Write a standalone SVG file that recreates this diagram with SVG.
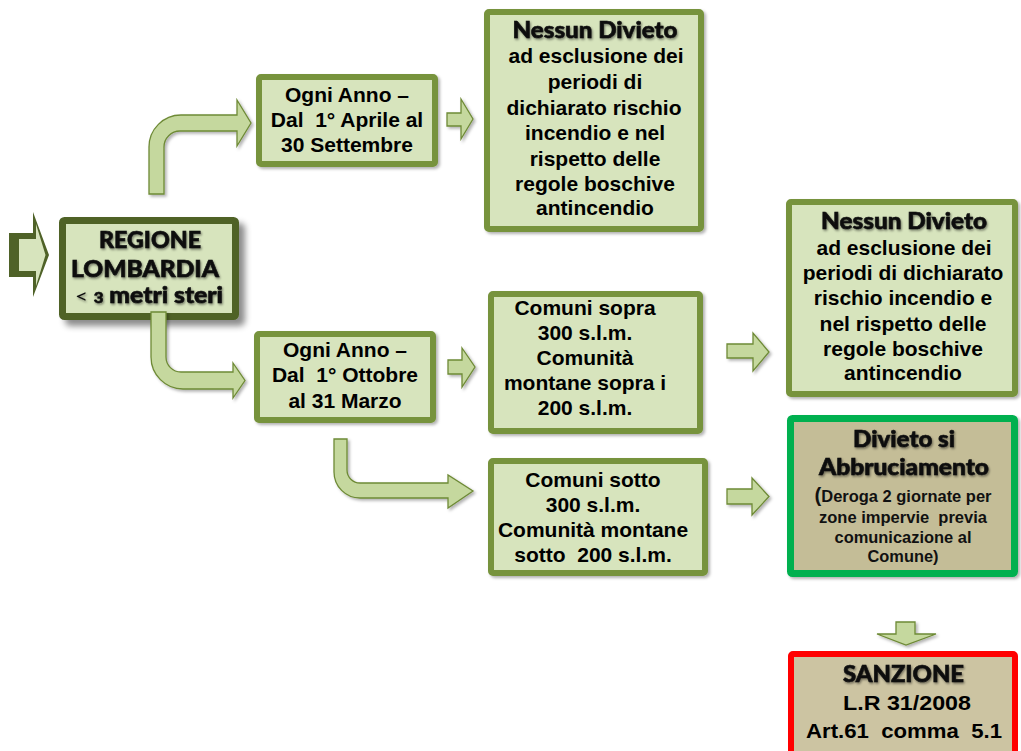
<svg xmlns="http://www.w3.org/2000/svg" width="1021" height="751" viewBox="0 0 1021 751">
<style>
  .box { fill: #D7E4BD; stroke: #77933C; stroke-width: 6; }
  .boxdark { fill: #D7E4BD; stroke: #4F6228; stroke-width: 7; }
  .boxtan-g { fill: #C4BD97; stroke: #00B050; stroke-width: 7; }
  .boxtan-r { fill: #CCC4A2; stroke: #FF0000; stroke-width: 6; }
  .arrow { fill: #C5D89E; stroke: #6E8A36; stroke-width: 1.3; stroke-linejoin: miter; }
  .t { font-family: "Liberation Sans", Arial, sans-serif; font-weight: bold; font-size: 21px; fill: #000; text-anchor: middle; }
  .h { font-family: Lato, "DejaVu Sans", sans-serif; font-weight: 900; font-size: 22px; fill: #111; stroke: #111; stroke-width: 0.6; text-anchor: middle; }
  .n { font-family: "Liberation Sans Narrow", "Liberation Sans", Arial, sans-serif; font-weight: bold; font-size: 17px; fill: #111; text-anchor: middle; }
</style>
<defs>
  <filter id="sh" x="-10%" y="-10%" width="130%" height="130%">
    <feDropShadow dx="2" dy="2" stdDeviation="1.5" flood-color="#000" flood-opacity="0.3"/>
  </filter>
  <filter id="shbig" x="-10%" y="-10%" width="130%" height="140%">
    <feDropShadow dx="6" dy="6" stdDeviation="3" flood-color="#000" flood-opacity="0.45"/>
  </filter>
  <filter id="tsh" x="-5%" y="-20%" width="115%" height="150%">
    <feDropShadow dx="1" dy="1.5" stdDeviation="1" flood-color="#000" flood-opacity="0.45"/>
  </filter>
</defs>

<g id="node-regione">
  <rect class="boxdark" x="62.5" y="220.5" width="173" height="96" rx="2" filter="url(#shbig)"/>
  <g filter="url(#tsh)">
    <text class="h" x="150" y="248" textLength="102" lengthAdjust="spacingAndGlyphs">REGIONE</text>
    <text class="h" x="145" y="277" textLength="148" lengthAdjust="spacingAndGlyphs">LOMBARDIA</text>
    <text class="h" x="149" y="303" textLength="148" lengthAdjust="spacingAndGlyphs" xml:space="preserve"><tspan font-weight="normal" stroke-width="0" font-size="20">&lt; </tspan><tspan font-size="15">3</tspan><tspan> metri steri</tspan></text>
  </g>
</g>

<g id="node-ogni-anno-aprile">
  <rect class="box" x="259" y="77" width="176" height="87" rx="2" filter="url(#sh)"/>
  <text class="t" x="347" y="102" font-size="20.5">Ogni Anno –</text>
  <text class="t" x="347" y="127" font-size="20.5" xml:space="preserve">Dal  1° Aprile al</text>
  <text class="t" x="347" y="152" font-size="20.5">30 Settembre</text>
</g>

<g id="node-ogni-anno-ottobre">
  <rect class="box" x="257" y="334" width="176" height="86" rx="2" filter="url(#sh)"/>
  <text class="t" x="345" y="357" font-size="20.5">Ogni Anno –</text>
  <text class="t" x="345" y="382" font-size="20.5" xml:space="preserve">Dal  1° Ottobre</text>
  <text class="t" x="345" y="408" font-size="20.5">al 31 Marzo</text>
</g>

<g id="node-nessun-divieto-1">
  <rect class="box" x="487" y="12" width="214" height="217" rx="2" filter="url(#sh)"/>
  <text class="h" x="595" y="38" textLength="165" lengthAdjust="spacingAndGlyphs" filter="url(#tsh)">Nessun Divieto</text>
  <text class="t" x="596" y="63">ad esclusione dei</text>
  <text class="t" x="595" y="89">periodi di</text>
  <text class="t" x="594" y="115">dichiarato rischio</text>
  <text class="t" x="595" y="140">incendio e nel</text>
  <text class="t" x="595" y="166">rispetto delle</text>
  <text class="t" x="595" y="191">regole boschive</text>
  <text class="t" x="595" y="215">antincendio</text>
</g>

<g id="node-comuni-sopra">
  <rect class="box" x="491" y="294" width="209" height="137" rx="2" filter="url(#sh)"/>
  <text class="t" x="585" y="315">Comuni sopra</text>
  <text class="t" x="585" y="340">300 s.l.m.</text>
  <text class="t" x="585" y="365">Comunità</text>
  <text class="t" x="585" y="390">montane sopra i</text>
  <text class="t" x="585" y="415">200 s.l.m.</text>
</g>

<g id="node-comuni-sotto">
  <rect class="box" x="491" y="461" width="214" height="112" rx="2" filter="url(#sh)"/>
  <text class="t" x="593" y="487">Comuni sotto</text>
  <text class="t" x="593" y="512">300 s.l.m.</text>
  <text class="t" x="593" y="537">Comunità montane</text>
  <text class="t" x="593" y="562" xml:space="preserve">sotto  200 s.l.m.</text>
</g>

<g id="node-nessun-divieto-2">
  <rect class="box" x="789" y="202" width="226" height="192" rx="2" filter="url(#sh)"/>
  <text class="h" x="904" y="229" textLength="166" lengthAdjust="spacingAndGlyphs" filter="url(#tsh)">Nessun Divieto</text>
  <text class="t" x="904" y="255">ad esclusione dei</text>
  <text class="t" x="903" y="280">periodi di dichiarato</text>
  <text class="t" x="903" y="305">rischio incendio e</text>
  <text class="t" x="903" y="331">nel rispetto delle</text>
  <text class="t" x="903" y="356">regole boschive</text>
  <text class="t" x="903" y="380">antincendio</text>
</g>

<g id="node-divieto">
  <rect class="boxtan-g" x="790.5" y="418.5" width="224" height="155" rx="2" filter="url(#sh)"/>
  <g filter="url(#tsh)">
    <text class="h" x="904" y="447" textLength="102" lengthAdjust="spacingAndGlyphs">Divieto si</text>
    <text class="h" x="904" y="475" textLength="170" lengthAdjust="spacingAndGlyphs">Abbruciamento</text>
  </g>
  <text class="n" x="903" y="502" textLength="177" lengthAdjust="spacingAndGlyphs"><tspan font-size="21">(</tspan>Deroga 2 giornate per</text>
  <text class="n" x="903" y="523" textLength="168" lengthAdjust="spacingAndGlyphs" xml:space="preserve">zone impervie  previa</text>
  <text class="n" x="903" y="543" textLength="137" lengthAdjust="spacingAndGlyphs">comunicazione al</text>
  <text class="n" x="903" y="562" textLength="71" lengthAdjust="spacingAndGlyphs">Comune)</text>
</g>

<g id="node-sanzione">
  <rect class="boxtan-r" x="791" y="654" width="224" height="104" rx="2"/>
  <text class="h" x="903.5" y="682" textLength="121" lengthAdjust="spacingAndGlyphs" filter="url(#tsh)">SANZIONE</text>
  <text class="t" x="907" y="710" font-size="22.5" textLength="128" lengthAdjust="spacingAndGlyphs">L.R 31/2008</text>
  <text class="t" x="904" y="738" font-size="22.5" textLength="196" lengthAdjust="spacingAndGlyphs" xml:space="preserve">Art.61  comma  5.1</text>
</g>

<g id="connectors">
  <g id="arrow-entry">
    <path d="M9,233 H33 V212 L49,255 L33,297 V277 H9 Z" fill="#4F6228"/>
    <path d="M19,239 H36 V224 L45.5,255 L36,286 V271 H19 Z" fill="#D7E4BD"/>
  </g>
  <path class="arrow" filter="url(#sh)" d="M149,194 V147 A32,32 0 0 1 181,115 H237 V100 L251,123 L237,146 V131 H180 A16,16 0 0 0 164,147 V194 Z"/>
  <path class="arrow" filter="url(#sh)" d="M151,312 H166 V357 A15,15 0 0 0 181,372 H233 V363 L245,380.5 L233,398 V389 H183 A32,32 0 0 1 151,357 Z"/>
  <path class="arrow" filter="url(#sh)" d="M447,113 H461 V99 L473,119 L461,139 V126 H447 Z"/>
  <path class="arrow" filter="url(#sh)" d="M448,360 H462 V348 L475,367 L462,387 V374 H448 Z"/>
  <path class="arrow" filter="url(#sh)" d="M334,439 H347 V470 A13,13 0 0 0 360,483 H448 V475 L473,491 L448,508 V498 H360 A26,26 0 0 1 334,472 Z"/>
  <path class="arrow" filter="url(#sh)" d="M727,344 H753 V333 L769,352 L753,371 V358 H727 Z"/>
  <path class="arrow" filter="url(#sh)" d="M727,489 H752 V478 L769,496.5 L752,515 V504 H727 Z"/>
  <path class="arrow" filter="url(#sh)" d="M896,622 H915 V634 H936 L906,645 L877,634 H896 Z"/>
</g>
</svg>
